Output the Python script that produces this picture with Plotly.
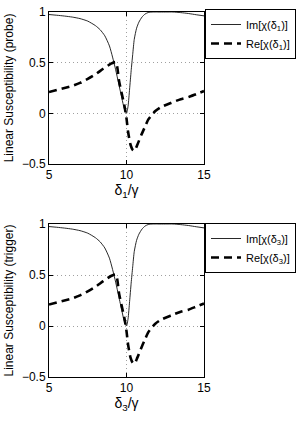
import plotly.graph_objects as go

# ---- data ----
x_im = [5, 5.5, 6, 6.5, 7, 7.5, 8, 8.3, 8.6, 8.9, 9.1, 9.3, 9.5, 9.7, 9.85, 10,
        10.1, 10.2, 10.3, 10.4, 10.5, 10.65, 10.8, 11.0, 11.2, 11.4, 11.7, 12,
        12.5, 13, 13.5, 14, 14.5, 15]
im_probe = [0.975, 0.968, 0.96, 0.95, 0.935, 0.91, 0.865, 0.825, 0.765, 0.665,
            0.555, 0.43, 0.29, 0.15, 0.05, 0.0,
            0.07, 0.24, 0.42, 0.58, 0.73, 0.84, 0.9, 0.95, 0.98, 0.995, 1.0, 1.0,
            1.0, 1.0, 0.994, 0.985, 0.973, 0.962]

x_re = [5, 5.5, 6, 6.5, 7, 7.5, 8, 8.5, 9, 9.3, 9.4, 9.52, 9.7, 9.86, 10.0,
        10.1, 10.26, 10.4, 10.52, 10.7, 10.98, 11.2, 11.41, 11.84, 12.2, 12.9,
        13.5, 14, 14.5, 15]
re_probe = [0.21, 0.23, 0.25, 0.27, 0.30, 0.34, 0.385, 0.44, 0.49, 0.505, 0.46,
            0.32, 0.19, 0.08, -0.05,
            -0.18, -0.31, -0.36, -0.37, -0.31, -0.205, -0.13, -0.06, 0.02, 0.06,
            0.105, 0.14, 0.16, 0.19, 0.22]

im_trigger = list(im_probe)
re_trigger = list(re_probe)

x_ticks = [5, 10, 15]
y_ticks = [-0.5, 0, 0.5, 1]
y_tick_text = ["\u22120.5", "0", "0.5", "1"]

FONT = "Liberation Sans, Arial, sans-serif"

fig = go.Figure()

panels = [
    (im_probe, re_probe, "1", "", "legend"),
    (im_trigger, re_trigger, "3", "2", "legend2"),
]
for im, re, sub, ax, leg in panels:
    fig.add_trace(go.Scatter(
        x=x_im, y=im, mode="lines", name=f"Im[\u03c7(\u03b4<sub>{sub}</sub>)]",
        line=dict(color="#111111", width=0.9, shape="spline", smoothing=0.6),
        xaxis="x" + ax, yaxis="y" + ax, legend=leg))
    fig.add_trace(go.Scatter(
        x=x_re, y=re, mode="lines", name=f"Re[\u03c7(\u03b4<sub>{sub}</sub>)]",
        line=dict(color="black", width=2.6, dash="8px,5px", shape="spline", smoothing=0.6),
        xaxis="x" + ax, yaxis="y" + ax, legend=leg))

W, H = 302, 421
ML, MR, MT, MB = 49, W - 204, 12, H - 377
PH = H - MT - MB
PW = W - ML - MR
yd1 = [(377 - 164) / PH, 1]
yd2 = [0, (377 - 224) / PH]

GRID = dict(showgrid=True, gridcolor="#a0a0a0", griddash="1px,3px", gridwidth=1)

def xaxis(anchor, sub):
    return dict(domain=[0, 1], anchor=anchor, range=[5, 15], tickvals=x_ticks,
                ticks="inside", ticklen=4, tickcolor="black", showline=True,
                linecolor="black", linewidth=1, mirror="ticks",
                ticklabeloverflow="allow",
                zeroline=False, tickfont=dict(size=12, family=FONT, color="black"),
                title=dict(text=f"\u03b4<sub>{sub}</sub>/\u03b3",
                           font=dict(size=14, family=FONT, color="black"), standoff=2),
                **GRID)

def yaxis(domain, anchor, title):
    return dict(domain=domain, anchor=anchor, range=[-0.5, 1], tickvals=y_ticks,
                ticktext=y_tick_text,
                ticks="inside", ticklen=4, tickcolor="black", showline=True,
                linecolor="black", linewidth=1, mirror="ticks",
                ticklabeloverflow="allow",
                zeroline=False, tickfont=dict(size=12, family=FONT, color="black"),
                title=dict(text=title, font=dict(size=12, family=FONT, color="black"),
                           standoff=5),
                **GRID)

legend_common = dict(xanchor="left", yanchor="top", bgcolor="white",
                     bordercolor="black", borderwidth=1,
                     font=dict(size=11, family=FONT, color="black"),
                     tracegroupgap=0, itemwidth=30)

fig.update_layout(
    width=W, height=H,
    margin=dict(l=ML, r=MR, t=MT, b=MB, autoexpand=False),
    paper_bgcolor="white", plot_bgcolor="white",
    showlegend=True,
    xaxis=xaxis("y", "1"),
    yaxis=yaxis(yd1, "x", "Linear Susceptibility (probe)"),
    xaxis2=xaxis("y2", "3"),
    yaxis2=yaxis(yd2, "x2", "Linear Susceptibility (trigger)"),
    legend=dict(x=(205 - ML) / PW, y=(377 - 9) / PH, **legend_common),
    legend2=dict(x=(205 - ML) / PW, y=(377 - 223) / PH, **legend_common),
)

# remove the default 8px page margin so the figure sits at the window's corner
fig.write_html("out.html", config={"displayModeBar": False},
               post_script="document.body.style.margin='0px';")
